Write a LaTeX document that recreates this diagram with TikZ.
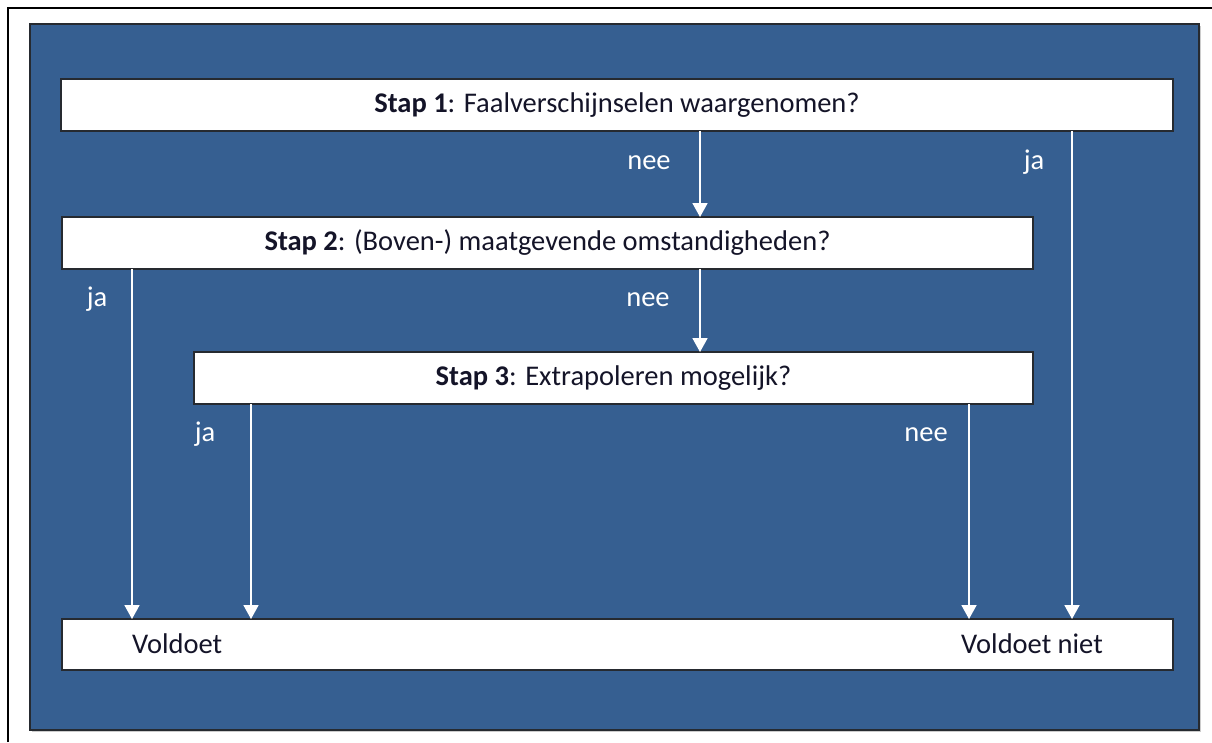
\documentclass[tikz,border=0pt]{standalone}
\usepackage{fontspec}
\setmainfont{Carlito}
\usetikzlibrary{arrows.meta}
\definecolor{panelblue}{RGB}{54,95,145}
\definecolor{edgedark}{RGB}{38,42,48}
\definecolor{txt}{RGB}{20,20,40}
\tikzset{
  x=1pt, y=-1pt,
  stepbox/.style={draw=edgedark, line width=1.4pt, fill=white, inner sep=0pt, outer sep=0pt, font=\fontsize{28.5}{32}\selectfont, text=txt},
  arr/.style={draw=white, line width=1.8pt, -{Triangle[width=15pt,length=14pt]}},
  lbl/.style={text=white, font=\fontsize{28.5}{32}\selectfont, inner sep=0pt, anchor=base},
  res/.style={text=txt, font=\fontsize{28.5}{32}\selectfont, inner sep=0pt, anchor=base west}
}
\begin{document}
\begin{tikzpicture}
\useasboundingbox (0,0) rectangle (1212,742);
\fill[white] (0,0) rectangle (1212,742);
% outer frame lines
\draw[black, line width=1.6pt] (8,742) -- (8,8) -- (1212,8);
% blue panel
\fill[gray!40] (32,26) rectangle (1201,732);
\draw[draw=edgedark, line width=1.6pt, fill=panelblue] (30,24) rectangle (1199,730);
% boxes
\node[stepbox, minimum width=1112pt, minimum height=52pt, anchor=north west] (b1) at (61,79) {\textbf{Stap 1}: Faalverschijnselen waargenomen?};
\node[stepbox, minimum width=971pt, minimum height=52pt, anchor=north west] (b2) at (62,217) {\textbf{Stap 2}: (Boven-) maatgevende omstandigheden?};
\node[stepbox, minimum width=839pt, minimum height=52pt, anchor=north west] (b3) at (194,352) {\textbf{Stap 3}: Extrapoleren mogelijk?};
\node[stepbox, minimum width=1111pt, minimum height=51pt, anchor=north west] (b4) at (62,619) {};
\node[res] (v1) at (132,653) {Voldoet};
\node[res] (v2) at (961,653) {Voldoet niet};
% arrows
\draw[arr] (b1.south -| 700,0) -- (b2.north -| 700,0);
\draw[arr] (b1.south -| 1072,0) -- (b4.north -| 1072,0);
\draw[arr] (b2.south -| 700,0) -- (b3.north -| 700,0);
\draw[arr] (b2.south -| 132,0) -- (b4.north -| 132,0);
\draw[arr] (b3.south -| 251,0) -- (b4.north -| 251,0);
\draw[arr] (b3.south -| 969,0) -- (b4.north -| 969,0);
% labels
\node[lbl] (l1) at (649,169) {nee};
\node[lbl] (l2) at (1034,169) {ja};
\node[lbl] (l3) at (648,306) {nee};
\node[lbl] (l4) at (97,306) {ja};
\node[lbl] (l5) at (205,441) {ja};
\node[lbl] (l6) at (926,441) {nee};
\end{tikzpicture}
\end{document}
